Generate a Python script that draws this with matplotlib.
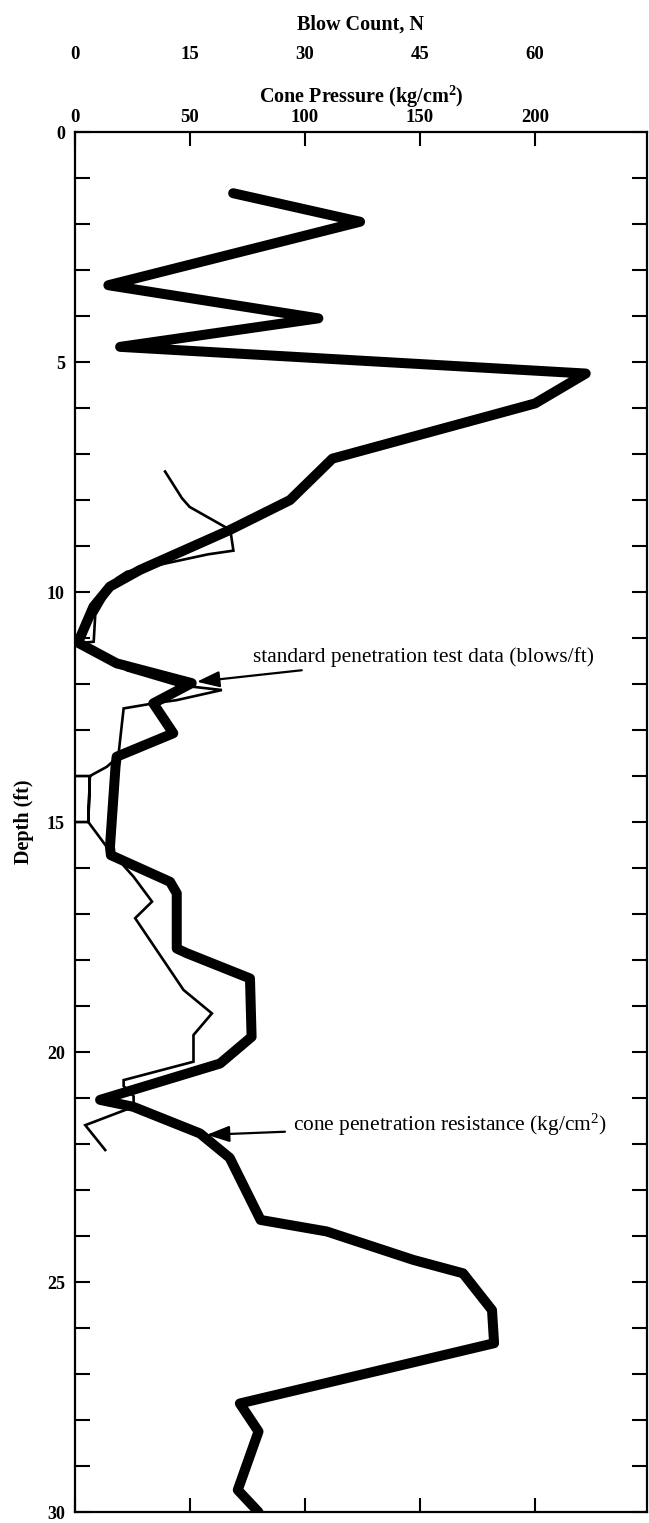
import matplotlib
matplotlib.use("Agg")
import matplotlib.pyplot as plt

plt.rcParams["font.family"] = ["Liberation Serif", "DejaVu Serif"]
plt.rcParams["mathtext.default"] = "regular"

# Cone penetration resistance profile (kg/cm^2) versus depth (ft)
cone_depth = [1.33, 1.95, 3.33, 4.05, 4.67, 5.25, 5.9, 7.1, 8.0, 8.65, 9.52,
              9.88, 10.32, 11.1, 11.55, 11.98, 12.42, 13.07, 13.58, 13.8,
              15.54, 15.72, 16.3, 16.55, 17.75, 17.85, 18.4, 19.67, 20.25,
              21.04, 21.19, 21.77, 22.3, 23.65, 23.9, 24.52, 24.81, 25.61,
              26.33, 27.64, 28.25, 29.52, 30.0]
cone_qc = [68.9, 124.0, 14.7, 105.9, 19.8, 222.0, 200.0, 112.0, 93.6, 67.5,
           28.4, 15.4, 8.2, 1.5, 18.3, 50.9, 34.2, 42.9, 18.3, 17.8,
           15.4, 15.8, 41.5, 44.4, 44.4, 48.7, 76.2, 76.9, 63.2,
           11.1, 25.5, 54.5, 67.4, 80.8, 109.5, 147.2, 168.7, 181.3,
           182.2, 71.8, 79.9, 70.9, 79.9]

# Standard penetration test blow counts (blows/ft) versus depth (ft)
spt_depth = [7.38, 7.96, 8.15, 8.65, 9.10, 9.18, 9.56, 9.70, 10.50, 11.08,
             11.12, 11.48, 11.70, 12.02, 12.13, 12.35, 12.42, 12.53, 13.58,
             13.80, 14.00, 14.00, 15.00, 15.00, 14.00, 15.00, 15.54, 16.19,
             16.73, 17.09, 18.65, 19.16, 19.63, 20.21, 20.61, 20.74, 20.96,
             21.19, 21.59, 22.13]
spt_n = [11.8, 14.0, 15.0, 20.3, 20.7, 17.4, 6.8, 5.5, 2.7, 2.5,
         0.2, 5.1, 6.8, 13.3, 19.2, 13.3, 10.3, 6.4, 5.7,
         4.2, 2.0, 0.0, 0.0, 1.8, 2.0, 1.8, 4.2, 7.7,
         10.1, 7.9, 14.2, 17.9, 15.5, 15.5, 6.4, 6.4, 7.7,
         7.7, 1.4, 4.0]

cone_ticks = [0, 50, 100, 150, 200]
blow_ticks = [0, 15, 30, 45, 60]
depth_major = [0, 5, 10, 15, 20, 25, 30]
depth_minor = list(range(0, 31))

N_PER_QC = 0.3  # blow-count scale relative to cone-pressure scale


def n_to_qc(n):
    return n / N_PER_QC


def qc_to_n(q):
    return q * N_PER_QC


fig = plt.figure(figsize=(6.49, 15.23), dpi=100)
ax = fig.add_axes([0.1148, 0.0072, 0.8821, 0.9061])

ax.plot(cone_qc, cone_depth, color="black", lw=7.2,
        solid_joinstyle="round", solid_capstyle="round", zorder=3)
ax.plot([n_to_qc(v) for v in spt_n], spt_depth, color="black", lw=1.9,
        solid_joinstyle="miter", zorder=4)

ax.set_xlim(0, 248.6)
ax.set_ylim(30, 0)

for s in ax.spines.values():
    s.set_linewidth(1.6)

TICK_FS = 13.5
LABEL_FS = 14.5

# top axis: cone pressure
ax.xaxis.tick_top()
ax.set_xticks(cone_ticks)
ax.set_xticklabels([str(t) for t in cone_ticks], fontweight="bold",
                   fontsize=TICK_FS)
ax.tick_params(axis="x", which="both", direction="in", length=10, width=1.5,
               top=True, bottom=True, labeltop=True, labelbottom=False, pad=4)
ax.xaxis.set_label_position("top")
ax.set_xlabel("Cone Pressure (kg/cm$^2$)", fontweight="bold",
              fontsize=LABEL_FS, labelpad=4.5)

# depth axis
ax.set_yticks(depth_major)
ax.set_yticklabels([str(t) for t in depth_major], fontweight="bold",
                   fontsize=13)
ax.set_yticks(depth_minor, minor=True)
ax.tick_params(axis="y", which="both", direction="in", length=11, width=1.5,
               left=True, right=True, labelleft=True, pad=7)
ax.set_ylabel("Depth (ft)", fontweight="bold", fontsize=LABEL_FS, labelpad=9)

# blow count scale above the cone pressure scale
sec = ax.secondary_xaxis(1.0478, functions=(qc_to_n, n_to_qc))
sec.set_xticks(blow_ticks)
sec.set_xticklabels([str(t) for t in blow_ticks], fontweight="bold",
                    fontsize=TICK_FS)
sec.tick_params(axis="x", length=0, pad=2)
sec.spines["top"].set_visible(False)
sec.spines["bottom"].set_visible(False)
sec.set_xlabel("Blow Count, N", fontweight="bold", fontsize=LABEL_FS,
               labelpad=12)

# annotations
arrow = dict(arrowstyle="-|>,head_length=0.9,head_width=0.32",
             color="black", lw=1.6, shrinkA=4, shrinkB=0)
ax.annotate("standard penetration test data (blows/ft)",
            xy=(53.1, 11.95), xytext=(77.5, 11.41), fontsize=15.4,
            va="center", ha="left", arrowprops=arrow)
ax.annotate("cone penetration resistance (kg/cm$^2$)",
            xy=(57.4, 21.8), xytext=(95.0, 21.59), fontsize=15.4,
            va="center", ha="left", arrowprops=arrow)

fig.savefig("out.png", dpi=100)
